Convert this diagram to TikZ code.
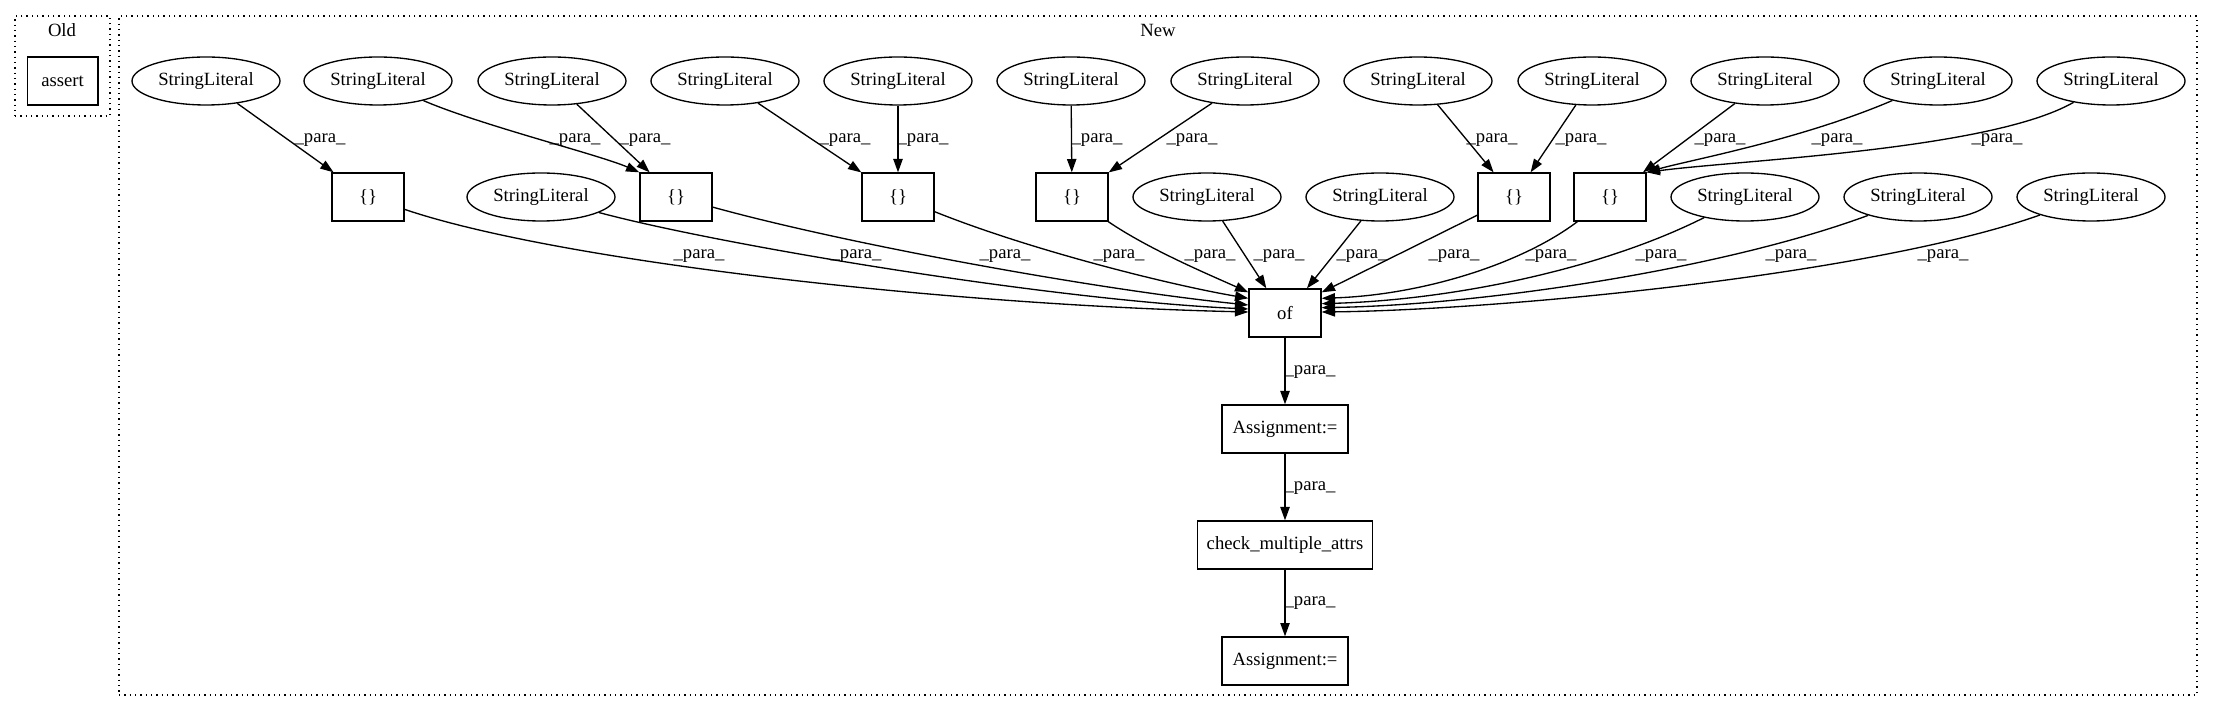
\documentclass[tikz,border=0pt]{standalone}
\usepackage{fontspec}
\setmainfont{Liberation Serif}
\usetikzlibrary{arrows.meta,shapes.geometric}
\begin{document}
\begin{tikzpicture}[x=0.75pt,y=-0.75pt,
  every node/.style={font=\fontsize{14pt}{16pt}\selectfont},
  ell/.style={draw, ellipse, line width=1pt, minimum width=111pt, minimum height=36pt, inner sep=0pt},
  bx/.style={draw, rectangle, line width=1pt, minimum height=36pt, minimum width=54pt, inner sep=0pt},
  edge/.style={draw, line width=1pt, -{Triangle[length=10pt,width=7pt]}},
  lbl/.style={inner sep=0pt},
  cluster/.style={draw, dash pattern=on 1pt off 3pt, line width=1pt, inner sep=0pt}]
\useasboundingbox (0,0) rectangle (2213,712);
% clusters
\node[cluster, minimum width=71.25pt, minimum height=75pt] (old) at (62.5,66) {};
\node[cluster, minimum width=1558.5pt, minimum height=509.25pt] (new) at (1158,355.5) {};
\node (oldt) at (62,30) {Old};
\node (newt) at (1158,30) {New};
\node[bx, minimum width=53pt] (assert) at (62.5,81) {assert};
% top row
\node[ell] (E1) at (206,81) {StringLiteral};
\node[ell] (E2) at (378,81) {StringLiteral};
\node[ell] (E3) at (552,81) {StringLiteral};
\node[ell] (E4) at (725,81) {StringLiteral};
\node[ell] (E5) at (898,81) {StringLiteral};
\node[ell] (E6) at (1071,81) {StringLiteral};
\node[ell] (E7) at (1245,81) {StringLiteral};
\node[ell] (E8) at (1418,81) {StringLiteral};
\node[ell] (E9) at (1592,81) {StringLiteral};
\node[ell] (E10) at (1765,81) {StringLiteral};
\node[ell] (E11) at (1938,81) {StringLiteral};
\node[ell] (E12) at (2111,81) {StringLiteral};
% second row
\node[bx] (B1) at (368,197) {\{\}};
\node[ell] (S1) at (541,197) {StringLiteral};
\node[bx] (B2) at (676,197) {\{\}};
\node[bx] (B3) at (898,197) {\{\}};
\node[bx] (B4) at (1072,197) {\{\}};
\node[ell] (S2) at (1207,197) {StringLiteral};
\node[ell] (S3) at (1380,197) {StringLiteral};
\node[bx] (B5) at (1514,197) {\{\}};
\node[bx] (B6) at (1610,197) {\{\}};
\node[ell] (S4) at (1745,197) {StringLiteral};
\node[ell] (S5) at (1918,197) {StringLiteral};
\node[ell] (S6) at (2091,197) {StringLiteral};
% chain
\node[bx] (of) at (1285,313) {of};
\node[bx, minimum width=94.5pt] (A1) at (1285,429) {Assignment:=};
\node[bx, minimum width=131pt] (C) at (1285,545) {check\_multiple\_attrs};
\node[bx, minimum width=94.5pt] (A2) at (1285,661) {Assignment:=};
% top edges
\draw[edge] (E1) -- (B1) node[lbl] at (320,140) {\_para\_};
\draw[edge] (E2) .. controls (480,125) and (600,155) .. (B2.north west) node[lbl] at (575,140) {\_para\_};
\draw[edge] (E3) -- (B2) node[lbl] at (645,140) {\_para\_};
\draw[edge] (E4) -- (B3) node[lbl] at (845,140) {\_para\_};
\draw[edge] (E5) -- (B3) node[lbl] at (923,140) {\_para\_};
\draw[edge] (E6) -- (B4) node[lbl] at (1097,140) {\_para\_};
\draw[edge] (E7) -- (B4) node[lbl] at (1192,140) {\_para\_};
\draw[edge] (E8) -- (B5) node[lbl] at (1492,140) {\_para\_};
\draw[edge] (E9) -- (B5) node[lbl] at (1581,140) {\_para\_};
\draw[edge] (E10) -- (B6) node[lbl] at (1720,140) {\_para\_};
\draw[edge] (E11) .. controls (1800,140) and (1690,160) .. (B6.north east) node[lbl] at (1837,140) {\_para\_};
\draw[edge] (E12) .. controls (1990,150) and (1740,160) .. (B6.north east) node[lbl] at (1997,140) {\_para\_};
% edges into of
\draw[edge] (B1) .. controls (560,262) and (950,305) .. ([yshift=0.75pt]of.west) node[lbl] at (699,256) {\_para\_};
\draw[edge] (S1) .. controls (720,245) and (1050,300) .. ([yshift=3pt]of.west) node[lbl] at (856,256) {\_para\_};
\draw[edge] (B2) .. controls (850,245) and (1100,290) .. ([yshift=6pt]of.west) node[lbl] at (1005,256) {\_para\_};
\draw[edge] (B3) .. controls (1030,250) and (1170,285) .. ([yshift=11pt]of.west) node[lbl] at (1119,256) {\_para\_};
\draw[edge] (B4) .. controls (1150,250) and (1210,275) .. ([yshift=15.5pt]of.west) node[lbl] at (1210,256) {\_para\_};
\draw[edge] (S2) -- ([xshift=-14pt]of.north) node[lbl] at (1279,256) {\_para\_};
\draw[edge] (S3) -- ([xshift=16.5pt]of.north) node[lbl] at (1362,256) {\_para\_};
\draw[edge] (B5) -- ([yshift=15.5pt]of.east) node[lbl] at (1454,256) {\_para\_};
\draw[edge] (B6) .. controls (1520,265) and (1420,295) .. ([yshift=11pt]of.east) node[lbl] at (1551,256) {\_para\_};
\draw[edge] (S4) .. controls (1600,270) and (1450,300) .. ([yshift=7pt]of.east) node[lbl] at (1661,256) {\_para\_};
\draw[edge] (S5) .. controls (1720,270) and (1480,305) .. ([yshift=4pt]of.east) node[lbl] at (1791,256) {\_para\_};
\draw[edge] (S6) .. controls (1870,275) and (1500,310) .. ([yshift=0.75pt]of.east) node[lbl] at (1943,256) {\_para\_};
% chain edges
\draw[edge] (of) -- (A1) node[lbl] at (1310,372) {\_para\_};
\draw[edge] (A1) -- (C) node[lbl] at (1310,488) {\_para\_};
\draw[edge] (C) -- (A2) node[lbl] at (1310,603) {\_para\_};
\end{tikzpicture}
\end{document}
